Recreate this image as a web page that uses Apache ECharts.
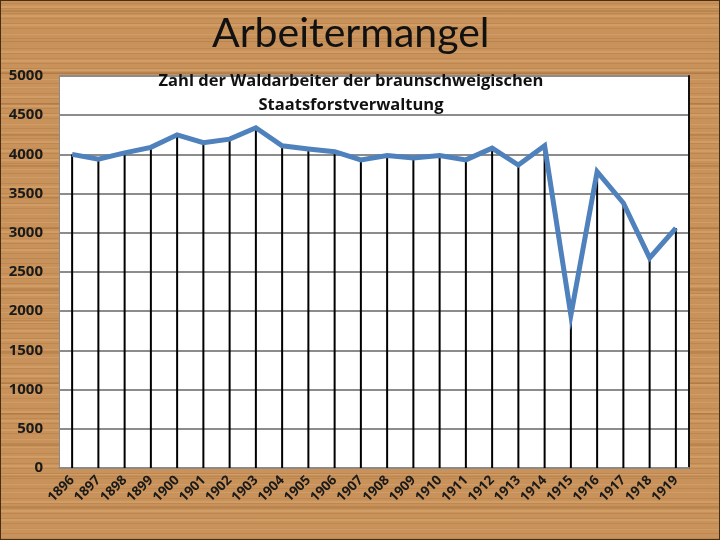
<!DOCTYPE html>
<html>
<head>
<meta charset="utf-8">
<title>Arbeitermangel</title>
<script src="https://cdn.jsdelivr.net/npm/echarts@6/dist/echarts.min.js"></script>
<style>
  html, body {
    margin: 0;
    padding: 0;
  }
  .chart {
    width: 720px;
    height: 540px;
    box-sizing: border-box;
    border: 1px solid #4a2e14;
    background-color: #c9925a;
    background-image:
      repeating-linear-gradient(0deg, rgba(120, 70, 25, 0.14) 0px, rgba(120, 70, 25, 0.14) 1px, transparent 1px, transparent 5px),
      repeating-linear-gradient(0deg, rgba(255, 225, 180, 0.14) 0px, rgba(255, 225, 180, 0.14) 2px, transparent 2px, transparent 9px),
      repeating-linear-gradient(0deg, rgba(110, 60, 20, 0.16) 0px, rgba(110, 60, 20, 0.16) 2px, transparent 2px, transparent 31px);
  }
</style>
</head>
<body>
<div id="main" class="chart"></div>
<script>
// Jahre
const years = ['1896', '1897', '1898', '1899', '1900', '1901', '1902', '1903',
  '1904', '1905', '1906', '1907', '1908', '1909', '1910', '1911', '1912',
  '1913', '1914', '1915', '1916', '1917', '1918', '1919']

// Zahl der Waldarbeiter
const workers = [4000, 3940, 4020, 4090, 4250, 4150, 4195, 4340,
  4110, 4070, 4035, 3930, 3985, 3955, 3985, 3930, 4080,
  3865, 4110, 1950, 3780, 3380, 2680, 3060]

const chartTitle = 'Arbeitermangel'
const chartSubtitle = 'Zahl der Waldarbeiter der braunschweigischen\nStaatsforstverwaltung'

let chartDom = document.getElementById('main')
let myChart = echarts.init(chartDom, null, { renderer: 'canvas' })

let option = {
  backgroundColor: 'transparent',
  animation: false,
  title: [
    {
      text: chartTitle,
      left: 206,
      top: 7,
      textStyle: {
        fontFamily: 'Lato',
        fontWeight: 'normal',
        fontSize: 41,
        color: '#111'
      }
    },
    {
      text: chartSubtitle,
      left: 345,
      textAlign: 'center',
      top: 63,
      textStyle: {
        fontFamily: 'Open Sans',
        fontWeight: 'bold',
        fontSize: 16.5,
        lineHeight: 24,
        color: '#111'
      }
    }
  ],
  grid: {
    left: 58,
    right: 30,
    top: 75,
    bottom: 71,
    show: true,
    backgroundColor: '#fff',
    borderWidth: 0
  },
  xAxis: {
    type: 'category',
    data: years,
    boundaryGap: true,
    axisLine: { show: true, lineStyle: { color: '#8a8a8a', width: 2 } },
    axisTick: { show: false },
    axisLabel: {
      rotate: 45,
      margin: 10,
      fontFamily: 'Open Sans',
      fontWeight: 'bold',
      fontSize: 13.5,
      color: '#1a1a1a'
    }
  },
  yAxis: [
    {
      type: 'value',
      min: 0,
      max: 5000,
      interval: 500,
      axisLine: { show: true, lineStyle: { color: '#8a8a8a', width: 1 } },
      axisTick: { show: false },
      axisLabel: {
        margin: 16,
        fontFamily: 'Open Sans',
        fontWeight: 'bold',
        fontSize: 15,
        color: '#1a1a1a',
        formatter: function (v) { return String(v) }
      },
      splitLine: { show: true, lineStyle: { color: '#8c8c8c', width: 2 } }
    },
    {
      // nur der dunkle rechte Rand
      type: 'value',
      position: 'right',
      min: 0,
      max: 5000,
      interval: 500,
      axisLine: { show: true, lineStyle: { color: '#111', width: 2 } },
      axisTick: { show: false },
      axisLabel: { show: false },
      splitLine: { show: false }
    }
  ],
  series: [
    {
      // Lotlinien von jedem Punkt zur Achse
      type: 'bar',
      data: workers,
      barWidth: 2,
      itemStyle: { color: '#000' },
      z: 2
    },
    {
      type: 'line',
      data: workers,
      symbol: 'none',
      lineStyle: { color: '#4f81bd', width: 5, join: 'miter' },
      z: 3
    }
  ]
}

myChart.setOption(option)
</script>
</body>
</html>
